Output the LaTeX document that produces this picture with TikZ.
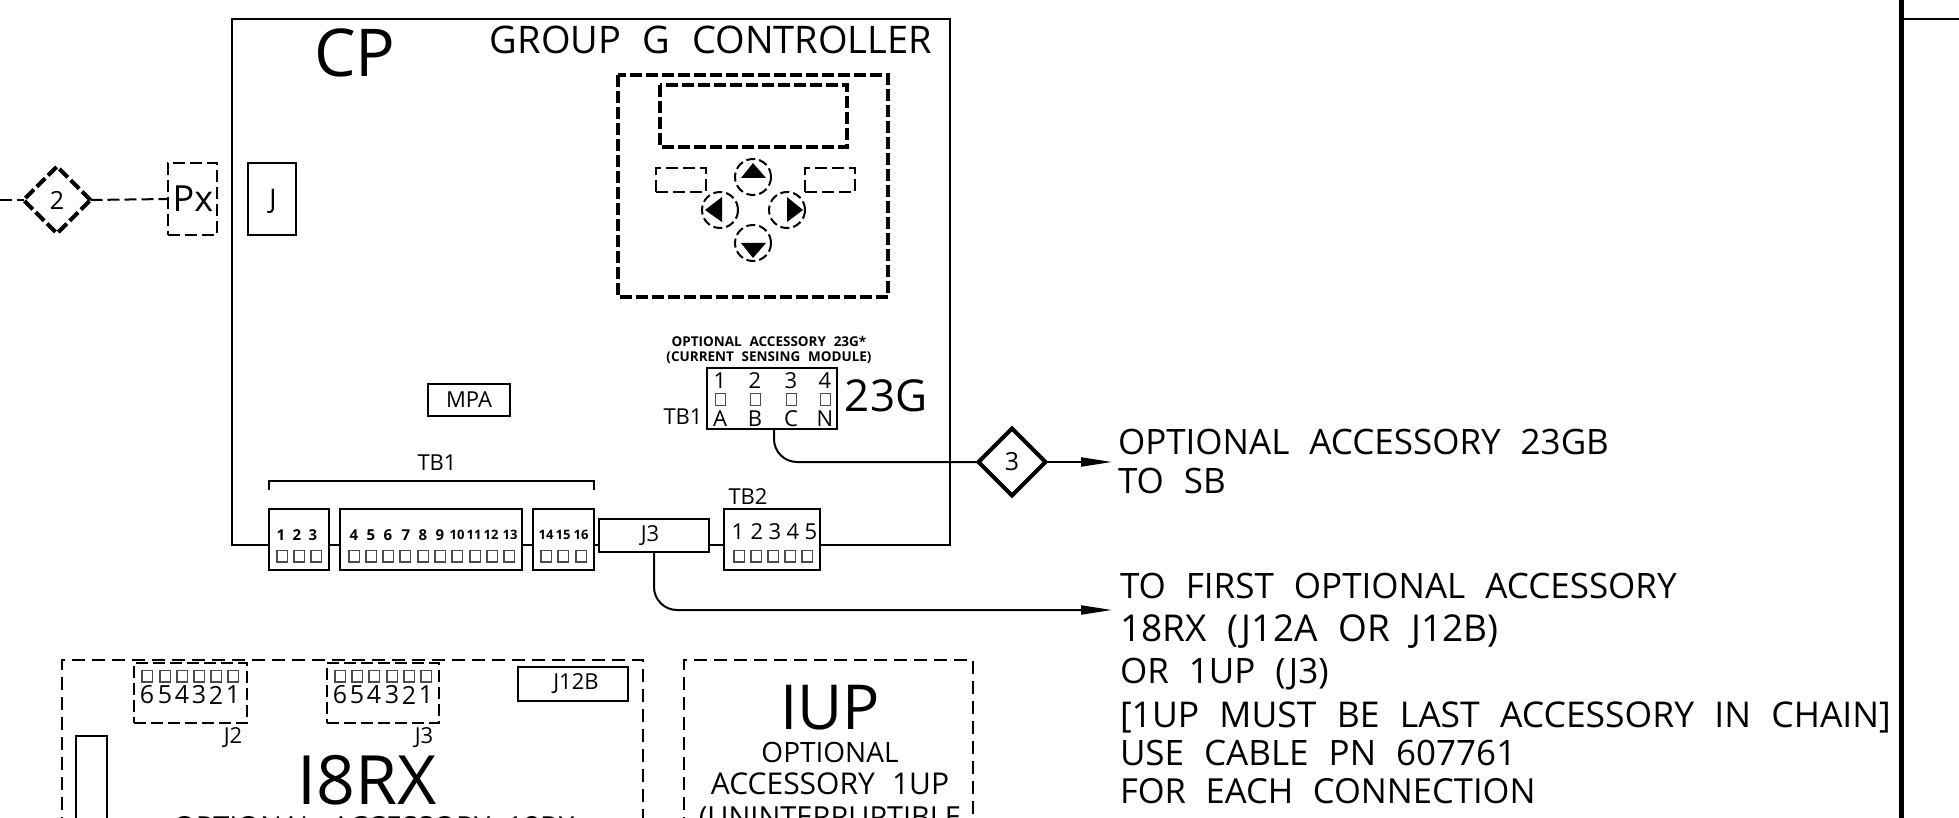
\documentclass[tikz,border=0pt]{standalone}
\usepackage{fontspec}
\setmainfont{Open Sans}[WordSpace=2.2]
\usetikzlibrary{arrows.meta,shapes.geometric}
\newcommand{\cadsize}[1]{\fontsize{#1}{#1}\selectfont}

\begin{document}
\begin{tikzpicture}[x=1pt,y=-1pt,line width=2pt]
	\tikzstyle{box}=[draw,rectangle,inner sep=0pt,outer sep=0pt]
	\tikzstyle{thinbox}=[box,dash pattern=on 12pt off 5pt]
	\tikzstyle{bigbox}=[dash pattern=on 13pt off 7pt]
	\tikzstyle{thick dash}=[line width=4pt,dash pattern=on 12pt off 4pt]
	\tikzstyle{btn}=[draw,circle,inner sep=0pt,outer sep=0pt,minimum size=36pt,dash pattern=on 9pt off 4pt]
	\tikzstyle{sq}=[draw=black!70,rectangle,line width=1.5pt,inner sep=0pt,minimum width=10.5pt,minimum height=11.5pt]
	\tikzstyle{flag}=[draw,diamond,line width=4pt,inner sep=0pt,outer sep=0pt,minimum size=67pt]
	\tikzstyle{huge}=[inner sep=0pt,font=\cadsize{66}]
	\tikzstyle{note}=[inner sep=0pt,anchor=west,font=\cadsize{35}]
	\tikzstyle{mid}=[inner sep=0pt,font=\cadsize{28}]
	\tikzstyle{lbl}=[inner sep=0pt,font=\cadsize{22}]
	\tikzstyle{tiny}=[inner sep=0pt,font=\bfseries\cadsize{15}]
	\tikzstyle{tinier}=[inner sep=0pt,font=\bfseries\cadsize{13}]
	\tikzstyle{wire}=[-{Triangle[length=31pt,width=9pt]}]

	\clip (0,0) rectangle (1959,818);
	\useasboundingbox (0,0) rectangle (1959,818);

	% controller
	\coordinate (cpSW) at (232,545);
	\coordinate (cpNE) at (950,19);
	\node[huge] (cpname) at (355,53) {CP};
	\node[inner sep=0pt,font=\cadsize{38}] (cptitle) at (711,40) {GROUP G CONTROLLER};
	\node[box,minimum width=48pt,minimum height=72pt] (jbox) at (272,199) {};
	\node[lbl,font=\cadsize{27}] (jname) at (273,201) {J};
	\node[box,minimum width=82pt,minimum height=32pt] (mpa) at (469,400) {};
	\node[lbl] (mpaname) at (469,400) {MPA};

	% terminals
	\node[box,minimum width=60pt,minimum height=61pt] (tbA) at (299,539.5) {};
	\node[box,minimum width=182pt,minimum height=61pt] (tbB) at (431,539.5) {};
	\node[box,minimum width=61pt,minimum height=61pt] (tbC) at (563.5,539.5) {};
	\node[box,minimum width=110pt,minimum height=33pt] (jthree) at (654,535.5) {};
	\node[box,minimum width=96pt,minimum height=61pt] (tbTwo) at (772,539.5) {};
	\node[lbl] (jthreename) at (650,536) {J3};
	\node[lbl] (tbname) at (437,463) {TB1};
	\node[lbl] (tbtwoname) at (748,497) {TB2};
	\foreach \x/\t in {281/1,297/2,313/3,354/4,371/5,388/6,406/7,423/8,440/9}
		\node[tiny] (num\t) at (\x,535) {\t};
	\foreach \x/\t in {457/10,474/11,491/12,510/13,546/14,563/15,581/16}
		\node[tinier] (num\t) at (\x,535) {\t};
	\foreach \x in {282,299,316,354,371,388,405,423,440,457,475,492,509,546,563,581}
		\node[sq] (sq\x) at (\x,556) {};
	\foreach \x/\t in {738/1,757/2,775/3,793/4,811/5}
		\node[lbl] (numb\t) at (\x,532) {\t};
	\foreach \x in {739,756,773,790,807}
		\node[sq] (sqb\x) at (\x,556) {};
	\draw (269,490) |- (594,481) -- (594,490);
	\draw (tbA.west |- cpSW) -| (232,19) -| (cpNE) |- (tbTwo.east |- cpSW);
	\draw (tbA.east |- cpSW) -- (tbB.west |- cpSW);
	\draw (tbB.east |- cpSW) -- (tbC.west |- cpSW);
	\draw (tbC.east |- cpSW) -- (jthree.west |- cpSW);
	\draw (jthree.east |- cpSW) -- (tbTwo.west |- cpSW);

	% keypad
	\draw[thick dash] (618,75) rectangle (888,297);
	\draw[thick dash] (660,85) rectangle (847,147);
	\node[thinbox,minimum width=50pt,minimum height=24pt] (softL) at (681,180) {};
	\node[thinbox,minimum width=50pt,minimum height=24pt] (softR) at (830,180) {};
	\node[btn] (keyU) at (753,177) {};
	\node[btn] (keyL) at (720,210) {};
	\node[btn] (keyR) at (787,210) {};
	\node[btn] (keyD) at (753,243) {};
	\fill (753,163) -- (766,178) -- (741,178) -- cycle;
	\fill (705,210) -- (722,197) -- (722,222) -- cycle;
	\fill (803,210) -- (787,197) -- (787,222) -- cycle;
	\fill (753,258) -- (766,243) -- (741,243) -- cycle;

	% 23G module
	\node[inner sep=0pt,font=\bfseries\cadsize{13.5}] (optA) at (769,341) {OPTIONAL ACCESSORY 23G*};
	\node[inner sep=0pt,font=\bfseries\cadsize{13.5}] (optB) at (769,358) {(CURRENT SENSING MODULE)};
	\node[box,minimum width=130pt,minimum height=61pt] (modG) at (772,398.5) {};
	\foreach \x/\a/\b in {720/1/A,755/2/B,791/3/C,825/4/N} {
		\node[lbl] (top\a) at (\x,381) {\a};
		\node[lbl] (bot\b) at (\x,419) {\b};
		\node[sq,line width=1pt,minimum width=10pt,minimum height=12pt] (sqm\a) at (\x,399) {};
	}
	\node[lbl] (tbmod) at (683,417) {TB1};
	\node[inner sep=0pt,font=\cadsize{44}] (modname) at (886,396) {23G};
	\node[flag] (flagC) at (1012,462) {};
	\node[lbl,font=\cadsize{25}] (flagCname) at (1012,462) {3};
	\coordinate (tipG) at (1112,462);
	\coordinate (tipJ) at (1112,610);
	\draw[rounded corners=23pt] ([xshift=2pt]modG.south) |- (flagC.west);
	\draw[wire] (flagC.east) -- (tipG);
	\draw[wire,rounded corners=23pt] (jthree.south) |- (tipJ);

	% P connector
	\node[flag,dash pattern=on 12pt off 4pt] (flagB) at (57,200) {};
	\node[lbl,font=\cadsize{25}] (flagBname) at (57,200) {2};
	\node[thinbox,minimum width=49pt,minimum height=72pt] (px) at (192.5,199) {};
	\node[lbl,font=\cadsize{36}] (pxname) at (193,199) {Px};
	\coordinate (leftend) at (0,200);
	\draw[dash pattern=on 12pt off 5pt] (leftend) -- (flagB.west);
	\draw[dash pattern=on 12pt off 5pt] (flagB.east) -- (px.west);

	% notes
	\node[note] (noteA) at (1117,442) {OPTIONAL ACCESSORY 23GB};
	\node[note] (noteB) at (1117,481) {TO SB};
	\node[note] (noteC) at (1119,586) {TO FIRST OPTIONAL ACCESSORY};
	\node[note,font=\cadsize{37}] (noteD) at (1119,632) {18RX (J12A OR J12B)};
	\node[note] (noteE) at (1119,674) {OR 1UP (J3)};
	\node[note,font=\cadsize{35.5}] (noteF) at (1119,717) {[1UP MUST BE LAST ACCESSORY IN CHAIN]};
	\node[note] (noteG) at (1119,753) {USE CABLE PN 607761};
	\node[note,font=\cadsize{34.5}] (noteH) at (1119,791) {FOR EACH CONNECTION};

	% 18RX
	\draw[bigbox] (62,830) |- (643,660) -- (643,830);
	\node[thinbox,minimum width=113pt,minimum height=60pt] (jtwoB) at (190.5,693) {};
	\node[thinbox,minimum width=112pt,minimum height=60pt] (jthreeB) at (383,693) {};
	\foreach \x/\t in {147/6,165/5,182/4,199/3,216/2,233/1} {
		\node[sq] (sqj\t) at (\x,676) {};
		\node[lbl,font=\cadsize{25}] (numj\t) at (\x,695) {\t};
	}
	\foreach \x/\t in {340/6,357/5,374/4,392/3,409/2,426/1} {
		\node[sq] (sqk\t) at (\x,676) {};
		\node[lbl,font=\cadsize{25}] (numk\t) at (\x,695) {\t};
	}
	\node[lbl] (jtwoname) at (233,738) {J2};
	\node[lbl] (jthreeBname) at (424,738) {J3};
	\node[box,minimum width=110pt,minimum height=34pt] (jtwelve) at (573,684) {};
	\node[lbl] (jtwelvename) at (576,684) {J12B};
	\node[box,minimum width=31pt,minimum height=100pt] (slot) at (91.5,786) {};
	\node[huge,font=\cadsize{68}] (rxname) at (367,780) {I8RX};
	\node[inner sep=0pt,font=\cadsize{29}] (rxopt) at (374,827) {OPTIONAL ACCESSORY 18RX};

	% 1UP
	\draw[bigbox] (684,830) |- (973,660) -- (973,830);
	\node[huge,font=\cadsize{62}] (upname) at (830,708) {IUP};
	\node[mid] (upA) at (830,752) {OPTIONAL};
	\node[mid,font=\cadsize{30}] (upB) at (830,784) {ACCESSORY 1UP};
	\node[mid,font=\cadsize{29}] (upC) at (830,819) {(UNINTERRUPTIBLE};

	% sheet frame
	\coordinate (frameT) at (1901,0);
	\coordinate (frameB) at (1901,818);
	\draw[line width=5pt] (frameT) -- (frameB);
	\draw (1901,19) -- (1959,19);
\end{tikzpicture}
\end{document}
